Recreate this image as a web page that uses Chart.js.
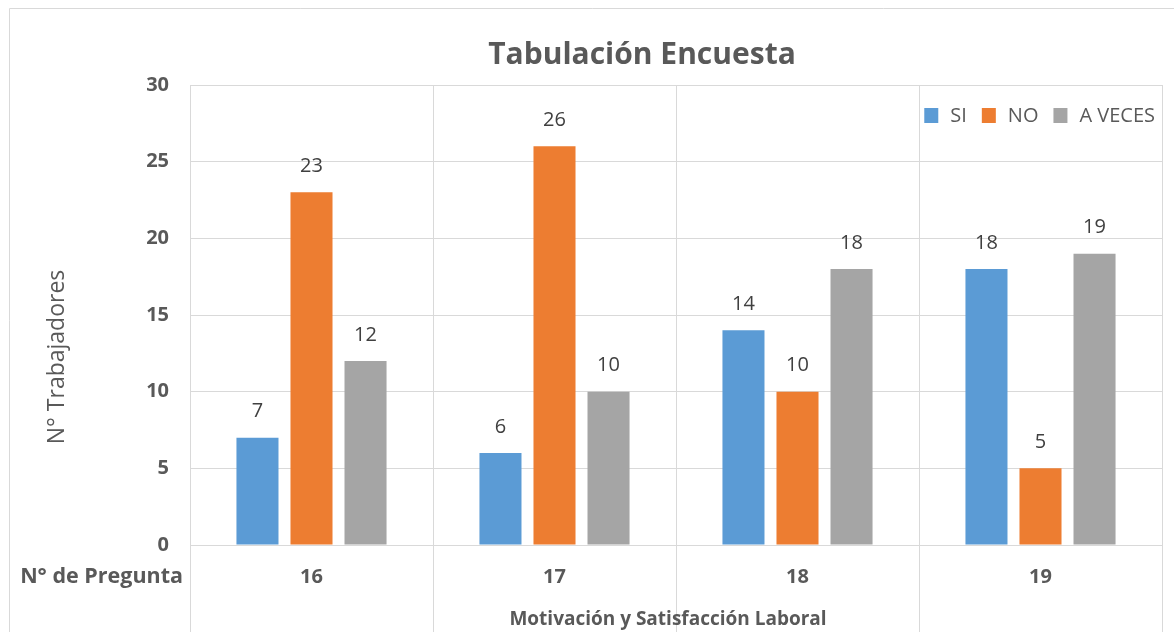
<!DOCTYPE html>
<html>
<head>
<meta charset="utf-8">
<script src="https://cdn.jsdelivr.net/npm/chart.js@4.4.0/dist/chart.umd.min.js"></script>
<style>
  html, body { margin: 0; padding: 0; background: #fff; }
  #wrap { width: 1174px; height: 632px; position: relative; }
</style>
</head>
<body>
<div id="wrap"><canvas id="chart"></canvas></div>
<script>
// Data
const categories = ['16', '17', '18', '19'];
const seriesNames = ['SI', 'NO', 'A VECES'];
const siValues = [7, 6, 14, 18];
const noValues = [23, 26, 10, 5];
const aVecesValues = [12, 10, 18, 19];
const yTicks = [0, 5, 10, 15, 20, 25, 30];

const chartTitle = 'Tabulación Encuesta';
const yTitle = 'N° Trabajadores';
const xTitle = 'Motivación y Satisfacción Laboral';
const rowHeader = 'N° de Pregunta';

const colors = ['#5B9BD5', '#ED7D31', '#A5A5A5'];
const textColor = '#595959';
const gridColor = '#D9D9D9';
const fontFamily = '"Open Sans", "DejaVu Sans", sans-serif';

// Extra drawing: frame, titles, row header, legend, value labels
const extras = {
    id: 'extras',
    beforeDraw(chart) {
        const ctx = chart.ctx;
        ctx.save();
        ctx.strokeStyle = gridColor;
        ctx.lineWidth = 1;
        ctx.beginPath();
        ctx.moveTo(9.5, 640);
        ctx.lineTo(9.5, 8.5);
        ctx.lineTo(1180, 8.5);
        ctx.stroke();
        ctx.restore();
    },
    afterDatasetsDraw(chart) {
        const ctx = chart.ctx;
        const area = chart.chartArea;
        ctx.save();

        // value labels
        ctx.font = '20px ' + fontFamily;
        ctx.fillStyle = '#404040';
        ctx.textAlign = 'center';
        ctx.textBaseline = 'middle';
        chart.data.datasets.forEach((ds, i) => {
            chart.getDatasetMeta(i).data.forEach((bar, j) => {
                ctx.fillText(String(ds.data[j]), bar.x, bar.y - 26);
            });
        });

        // title
        ctx.font = 'bold 30px ' + fontFamily;
        ctx.fillStyle = textColor;
        ctx.fillText(chartTitle, 642, 55);

        // x title
        ctx.font = 'bold 19px ' + fontFamily;
        ctx.fillText(xTitle, 668, 620);

        // y title
        ctx.save();
        ctx.translate(57, 357);
        ctx.rotate(-Math.PI / 2);
        ctx.font = '23px ' + fontFamily;
        ctx.fillText(yTitle, 0, 0);
        ctx.restore();

        // row header for the category row
        ctx.font = 'bold 21.5px ' + fontFamily;
        ctx.textAlign = 'right';
        ctx.fillText(rowHeader, 183, 577);

        // legend, top right inside the plot
        ctx.font = '20px ' + fontFamily;
        ctx.textAlign = 'left';
        let x = area.right - 7;
        const items = chart.data.datasets.map((ds) => ({ label: ds.label, color: ds.backgroundColor }));
        for (let k = items.length - 1; k >= 0; k--) {
            const w = ctx.measureText(items[k].label).width;
            x -= w;
            ctx.fillStyle = textColor;
            ctx.fillText(items[k].label, x, 116);
            x -= 12 + 14;
            ctx.fillStyle = items[k].color;
            ctx.fillRect(x, 108, 14, 15);
            x -= 15;
        }
        ctx.restore();
    }
};

const ctx = document.getElementById('chart').getContext('2d');
const chart = new Chart(ctx, {
    type: 'bar',
    data: {
        labels: categories,
        datasets: [
            { label: seriesNames[0], data: siValues, backgroundColor: colors[0] },
            { label: seriesNames[1], data: noValues, backgroundColor: colors[1] },
            { label: seriesNames[2], data: aVecesValues, backgroundColor: colors[2] }
        ]
    },
    options: {
        responsive: true,
        maintainAspectRatio: false,
        animation: false,
        layout: { padding: { left: 0, right: 12, top: 85, bottom: 0 } },
        datasets: {
            bar: { categoryPercentage: 0.667, barPercentage: 0.778 }
        },
        plugins: {
            legend: { display: false },
            title: { display: false },
            tooltip: { enabled: false }
        },
        scales: {
            x: {
                grid: {
                    offset: true,
                    color: gridColor,
                    drawTicks: true,
                    tickLength: 90,
                    tickColor: gridColor
                },
                border: { color: gridColor },
                ticks: {
                    padding: -70,
                    color: textColor,
                    font: { family: fontFamily, size: 20, weight: 'bold' }
                },
                afterFit(scale) { scale.height = 87; }
            },
            y: {
                min: 0,
                max: 30,
                afterBuildTicks(scale) { scale.ticks = yTicks.map((v) => ({ value: v })); },
                grid: { color: gridColor, drawTicks: false },
                border: { display: false },
                ticks: {
                    padding: 21,
                    color: textColor,
                    font: { family: fontFamily, size: 20, weight: 'bold' }
                },
                afterFit(scale) { scale.width = 190; }
            }
        }
    },
    plugins: [extras]
});
</script>
</body>
</html>
